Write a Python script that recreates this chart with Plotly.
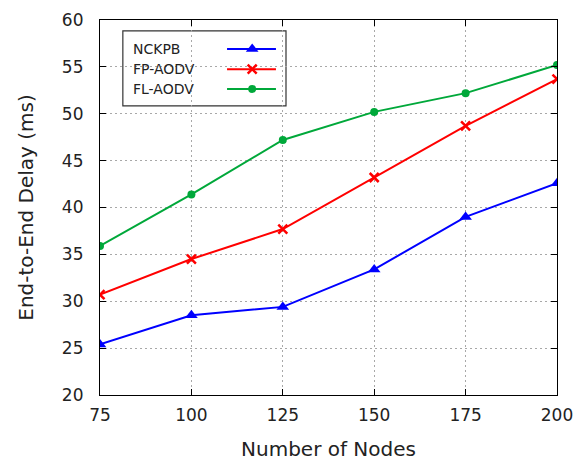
import plotly.graph_objects as go

nodes = [75, 100, 125, 150, 175, 200]
nckpb = [25.4, 28.5, 29.4, 33.4, 39.0, 42.6]
fp_aodv = [30.7, 34.5, 37.7, 43.2, 48.7, 53.7]
fl_aodv = [35.9, 41.4, 47.2, 50.2, 52.2, 55.2]

series = [
    ("NCKPB", nckpb, "#0000ff", dict(symbol="triangle-up", size=11)),
    ("FP-AODV", fp_aodv, "#ff0000", dict(symbol="x-thin", size=9, line=dict(width=2.5, color="#ff0000"))),
    ("FL-AODV", fl_aodv, "#00a83a", dict(symbol="circle", size=8)),
]

FONT = "DejaVu Sans, sans-serif"
TXT = "#222222"
fig = go.Figure()
for name, vals, col, mk in series:
    fig.add_trace(go.Scatter(x=nodes, y=vals, mode="lines+markers", name=name,
                             line=dict(color=col, width=2),
                             marker=dict(color=col, **mk), showlegend=False))

# custom legend (gnuplot style: text left, sample right)
lx0, lx1 = 0.050, 0.407
ly_bot, ly_top = 0.771, 0.971
fig.add_shape(type="rect", xref="paper", yref="paper", x0=lx0, x1=lx1, y0=ly_bot, y1=ly_top,
              line=dict(color="#333333", width=1.2), fillcolor="white", layer="between")
rows = [0.923, 0.869, 0.816]
for (name, vals, col, mk), ry in zip(series, rows):
    fig.add_annotation(x=0.068, y=ry, xref="paper", yref="paper", text=name,
                       showarrow=False, xanchor="left", yanchor="middle",
                       font=dict(family=FONT, size=14, color=TXT))
    fig.add_trace(go.Scatter(x=[0.278, 0.385], y=[ry, ry], xaxis="x2", yaxis="y2", mode="lines",
                             line=dict(color=col, width=2), showlegend=False, hoverinfo="skip"))
    fig.add_trace(go.Scatter(x=[0.333], y=[ry], xaxis="x2", yaxis="y2", mode="markers",
                             marker=dict(color=col, **mk), showlegend=False, hoverinfo="skip"))

axis_common = dict(showline=True, linecolor="black", linewidth=1.2, mirror="ticks",
                   ticks="inside", ticklen=6, tickcolor="black", automargin=False,
                   showgrid=True, gridcolor="#a8a8a8", griddash="2px,3px", gridwidth=1,
                   zeroline=False, tickfont=dict(family=FONT, size=17, color=TXT))
fig.update_layout(
    width=574, height=461,
    margin=dict(l=100, r=17, t=20, b=66),
    plot_bgcolor="white", paper_bgcolor="white",
    xaxis=dict(range=[75, 200], tickvals=[75, 100, 125, 150, 175, 200], ticklabelstandoff=4,
               title=dict(text="Number of Nodes", font=dict(family=FONT, size=20, color=TXT), standoff=19),
               **axis_common),
    yaxis=dict(range=[20, 60], tickvals=[20, 25, 30, 35, 40, 45, 50, 55, 60], ticklabelstandoff=12,
               title=dict(text="End-to-End Delay (ms)", font=dict(family=FONT, size=20, color=TXT), standoff=22),
               **axis_common),
    xaxis2=dict(domain=[0, 1], range=[0, 1], overlaying="x", visible=False, anchor="y2"),
    yaxis2=dict(domain=[0, 1], range=[0, 1], overlaying="y", visible=False, anchor="x2"),
)
fig.write_html("out.html")
